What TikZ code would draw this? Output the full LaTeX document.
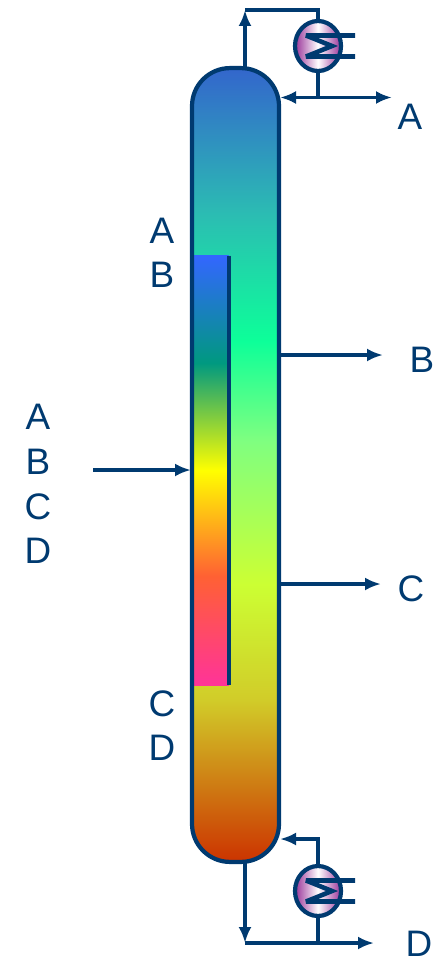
\documentclass[tikz,border=0pt]{standalone}
\usepackage{fontspec}
\setmainfont{Liberation Sans}
\usetikzlibrary{arrows.meta,calc,shapes.geometric}
\definecolor{linenavy}{HTML}{003A70}
\definecolor{coilpurple}{HTML}{993399}
\pgfdeclareverticalshading{columnshade}{100bp}{
    rgb(0bp)=(0.80,0.20,0.00);
    rgb(25bp)=(0.80,0.20,0.00);
    rgb(35.2bp)=(0.82,0.80,0.16);
    rgb(42.5bp)=(0.80,1.00,0.20);
    rgb(51.5bp)=(0.50,1.00,0.50);
    rgb(57.8bp)=(0.05,1.00,0.60);
    rgb(65.75bp)=(0.17,0.74,0.70);
    rgb(75bp)=(0.20,0.40,0.80);
    rgb(100bp)=(0.20,0.40,0.80)}
\pgfdeclareverticalshading{sidedrawshade}{100bp}{
    rgb(0bp)=(1.00,0.20,0.60);
    rgb(25bp)=(1.00,0.20,0.60);
    rgb(37.75bp)=(1.00,0.38,0.20);
    rgb(50bp)=(1.00,1.00,0.00);
    rgb(62.5bp)=(0.00,0.60,0.50);
    rgb(75bp)=(0.20,0.40,1.00);
    rgb(100bp)=(0.20,0.40,1.00)}
\begin{document}
\begin{tikzpicture}[
    x=0.02cm, y=-0.02cm,
    every node/.style={font=\fontsize{21}{25}\selectfont, text=linenavy, inner sep=1pt},
    column/.style={minimum width=1.74cm, minimum height=15.88cm, rounded corners=0.76cm, inner sep=0pt, outer sep=0pt},
    sidedraw/.style={minimum width=0.72cm, minimum height=8.6cm, inner sep=0pt, outer sep=0pt, shading=sidedrawshade},
    exchanger/.style={draw=linenavy, line width=2.4pt, ellipse, minimum width=0.92cm, minimum height=1.0cm, inner sep=0pt, outer sep=0pt, left color=coilpurple, right color=coilpurple, middle color=white},
    pipe/.style={draw=linenavy, line width=2pt},
    flow/.style={pipe, -{Latex[length=0.32cm, width=0.26cm]}},
    coil/.style={draw=linenavy, line width=2.6pt, miter limit=4}
]
\useasboundingbox (0,0) rectangle (434,960);
\node[column, shading=columnshade] (column) at (235.5,465) {};
\node[sidedraw] (side) at (211,470.5) {};
\draw[linenavy, line width=2.6pt] (side.north east) -- (side.south east);
\node[column, draw=linenavy, line width=2.4pt] (shell) at (235.5,465) {};
% free ends of the lines
\coordinate (overhead) at (245,68);
\coordinate (overheadTop) at (245,10);
\coordinate (reflux) at (280,97.5);
\coordinate (distillate) at (392,97.5);
\coordinate (feed) at (93,470);
\coordinate (feedIn) at (191,470);
\coordinate (bFrom) at (279,355);
\coordinate (bTo) at (383,355);
\coordinate (cFrom) at (277,584);
\coordinate (cTo) at (381,584);
\coordinate (boilup) at (280,839);
\coordinate (bottoms) at (245,862);
\coordinate (bottomsEnd) at (245,943);
\coordinate (product) at (374,943);
\node[exchanger] (condenser) at (318,46) {};
\node[exchanger] (reboiler) at (318,891) {};
\foreach \hx in {condenser,reboiler}
    \draw[coil] ($(\hx)+(37,-10.5)$) -- ++(-49,0) -- ++(26,10.5) -- ++(-26,10.5) -- ++(49,0);
\draw[flow] (overhead) -- (overheadTop);
\draw[pipe] (overheadTop) -- (overheadTop -| condenser) -- (condenser.north);
\draw[pipe] (condenser.south) -- (reflux -| condenser);
\draw[flow] (reflux -| condenser) -- (reflux);
\draw[flow] (reflux -| condenser) -- (distillate);
\draw[flow] (feed) -- (feedIn);
\draw[flow] (bFrom) -- (bTo);
\draw[flow] (cFrom) -- (cTo);
\draw[flow] (reboiler.north) |- (boilup);
\draw[flow] (bottoms) -- (bottomsEnd);
\draw[flow] (bottomsEnd) -- (product);
\draw[pipe] (reboiler.south) -- (product -| reboiler);
% labels
\node (topA) at (410,117) {A};
\node (drawA) at (162,231) {A};
\node (drawB) at (162,275) {B};
\node (feedA) at (38,417) {A};
\node (feedB) at (38,462) {B};
\node (feedC) at (38,507) {C};
\node (feedD) at (38,551) {D};
\node (outB) at (422,360) {B};
\node (outC) at (411,589) {C};
\node (drawC) at (162,704) {C};
\node (drawD) at (162,748) {D};
\node (outD) at (419,944) {D};
\end{tikzpicture}
\end{document}
